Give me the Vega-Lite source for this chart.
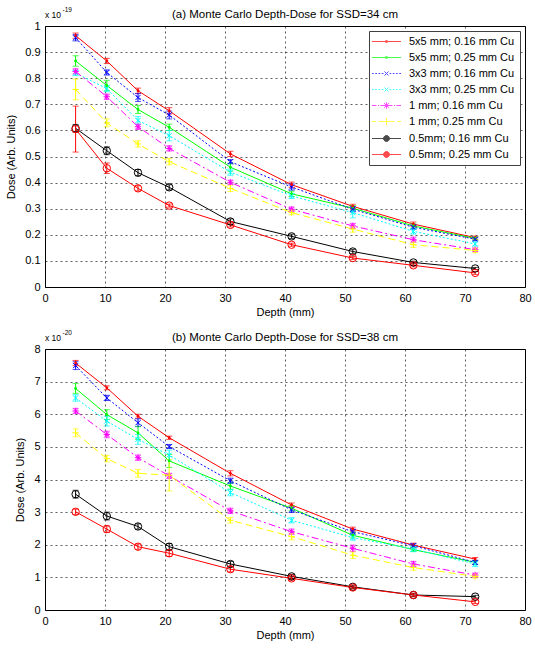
{
  "$schema": "https://vega.github.io/schema/vega-lite/v6.json",
  "padding": {"left": 5, "top": 6, "right": 0, "bottom": 0},
  "background": "white",
  "datasets": {
    "a": [
      {"s": "5x5 mm; 0.16 mm Cu", "d": 5.1, "v": 0.963, "e": 0.01},
      {"s": "5x5 mm; 0.16 mm Cu", "d": 10.3, "v": 0.866, "e": 0.01},
      {"s": "5x5 mm; 0.16 mm Cu", "d": 15.5, "v": 0.752, "e": 0.01},
      {"s": "5x5 mm; 0.16 mm Cu", "d": 20.7, "v": 0.675, "e": 0.012},
      {"s": "5x5 mm; 0.16 mm Cu", "d": 30.9, "v": 0.51, "e": 0.01},
      {"s": "5x5 mm; 0.16 mm Cu", "d": 41.1, "v": 0.392, "e": 0.01},
      {"s": "5x5 mm; 0.16 mm Cu", "d": 51.3, "v": 0.309, "e": 0.008},
      {"s": "5x5 mm; 0.16 mm Cu", "d": 61.4, "v": 0.241, "e": 0.008},
      {"s": "5x5 mm; 0.16 mm Cu", "d": 71.7, "v": 0.189, "e": 0.006},
      {"s": "5x5 mm; 0.25 mm Cu", "d": 5.1, "v": 0.866, "e": 0.02},
      {"s": "5x5 mm; 0.25 mm Cu", "d": 10.3, "v": 0.772, "e": 0.02},
      {"s": "5x5 mm; 0.25 mm Cu", "d": 15.5, "v": 0.68, "e": 0.015},
      {"s": "5x5 mm; 0.25 mm Cu", "d": 20.7, "v": 0.612, "e": 0.012},
      {"s": "5x5 mm; 0.25 mm Cu", "d": 30.9, "v": 0.459, "e": 0.015},
      {"s": "5x5 mm; 0.25 mm Cu", "d": 41.1, "v": 0.357, "e": 0.01},
      {"s": "5x5 mm; 0.25 mm Cu", "d": 51.3, "v": 0.302, "e": 0.01},
      {"s": "5x5 mm; 0.25 mm Cu", "d": 61.4, "v": 0.234, "e": 0.008},
      {"s": "5x5 mm; 0.25 mm Cu", "d": 71.7, "v": 0.186, "e": 0.006},
      {"s": "3x3 mm; 0.16 mm Cu", "d": 5.1, "v": 0.955, "e": 0.012},
      {"s": "3x3 mm; 0.16 mm Cu", "d": 10.3, "v": 0.822, "e": 0.01},
      {"s": "3x3 mm; 0.16 mm Cu", "d": 15.5, "v": 0.726, "e": 0.015},
      {"s": "3x3 mm; 0.16 mm Cu", "d": 20.7, "v": 0.659, "e": 0.015},
      {"s": "3x3 mm; 0.16 mm Cu", "d": 30.9, "v": 0.48, "e": 0.008},
      {"s": "3x3 mm; 0.16 mm Cu", "d": 41.1, "v": 0.383, "e": 0.012},
      {"s": "3x3 mm; 0.16 mm Cu", "d": 51.3, "v": 0.298, "e": 0.01},
      {"s": "3x3 mm; 0.16 mm Cu", "d": 61.4, "v": 0.229, "e": 0.008},
      {"s": "3x3 mm; 0.16 mm Cu", "d": 71.7, "v": 0.183, "e": 0.006},
      {"s": "3x3 mm; 0.25 mm Cu", "d": 5.1, "v": 0.82, "e": 0.01},
      {"s": "3x3 mm; 0.25 mm Cu", "d": 10.3, "v": 0.76, "e": 0.012},
      {"s": "3x3 mm; 0.25 mm Cu", "d": 15.5, "v": 0.638, "e": 0.015},
      {"s": "3x3 mm; 0.25 mm Cu", "d": 20.7, "v": 0.58, "e": 0.02},
      {"s": "3x3 mm; 0.25 mm Cu", "d": 30.9, "v": 0.44, "e": 0.012},
      {"s": "3x3 mm; 0.25 mm Cu", "d": 41.1, "v": 0.349, "e": 0.01},
      {"s": "3x3 mm; 0.25 mm Cu", "d": 51.3, "v": 0.285, "e": 0.02},
      {"s": "3x3 mm; 0.25 mm Cu", "d": 61.4, "v": 0.213, "e": 0.01},
      {"s": "3x3 mm; 0.25 mm Cu", "d": 71.7, "v": 0.165, "e": 0.008},
      {"s": "1 mm; 0.16 mm Cu", "d": 5.1, "v": 0.826, "e": 0.01},
      {"s": "1 mm; 0.16 mm Cu", "d": 10.3, "v": 0.729, "e": 0.01},
      {"s": "1 mm; 0.16 mm Cu", "d": 15.5, "v": 0.614, "e": 0.01},
      {"s": "1 mm; 0.16 mm Cu", "d": 20.7, "v": 0.531, "e": 0.01},
      {"s": "1 mm; 0.16 mm Cu", "d": 30.9, "v": 0.401, "e": 0.008},
      {"s": "1 mm; 0.16 mm Cu", "d": 41.1, "v": 0.298, "e": 0.008},
      {"s": "1 mm; 0.16 mm Cu", "d": 51.3, "v": 0.234, "e": 0.01},
      {"s": "1 mm; 0.16 mm Cu", "d": 61.4, "v": 0.181, "e": 0.01},
      {"s": "1 mm; 0.16 mm Cu", "d": 71.7, "v": 0.143, "e": 0.006},
      {"s": "1 mm; 0.25 mm Cu", "d": 5.1, "v": 0.757, "e": 0.04},
      {"s": "1 mm; 0.25 mm Cu", "d": 10.3, "v": 0.629, "e": 0.015},
      {"s": "1 mm; 0.25 mm Cu", "d": 15.5, "v": 0.548, "e": 0.012},
      {"s": "1 mm; 0.25 mm Cu", "d": 20.7, "v": 0.48, "e": 0.012},
      {"s": "1 mm; 0.25 mm Cu", "d": 30.9, "v": 0.378, "e": 0.012},
      {"s": "1 mm; 0.25 mm Cu", "d": 41.1, "v": 0.285, "e": 0.008},
      {"s": "1 mm; 0.25 mm Cu", "d": 51.3, "v": 0.222, "e": 0.012},
      {"s": "1 mm; 0.25 mm Cu", "d": 61.4, "v": 0.162, "e": 0.01},
      {"s": "1 mm; 0.25 mm Cu", "d": 71.7, "v": 0.14, "e": 0.008},
      {"s": "0.5mm; 0.16 mm Cu", "d": 5.1, "v": 0.608, "e": 0.015},
      {"s": "0.5mm; 0.16 mm Cu", "d": 10.3, "v": 0.522, "e": 0.015},
      {"s": "0.5mm; 0.16 mm Cu", "d": 15.5, "v": 0.438, "e": 0.012},
      {"s": "0.5mm; 0.16 mm Cu", "d": 20.7, "v": 0.382, "e": 0.01},
      {"s": "0.5mm; 0.16 mm Cu", "d": 30.9, "v": 0.251, "e": 0.01},
      {"s": "0.5mm; 0.16 mm Cu", "d": 41.1, "v": 0.194, "e": 0.008},
      {"s": "0.5mm; 0.16 mm Cu", "d": 51.3, "v": 0.136, "e": 0.008},
      {"s": "0.5mm; 0.16 mm Cu", "d": 61.4, "v": 0.094, "e": 0.005},
      {"s": "0.5mm; 0.16 mm Cu", "d": 71.7, "v": 0.071, "e": 0.004},
      {"s": "0.5mm; 0.25 mm Cu", "d": 5.1, "v": 0.605, "e": 0.088},
      {"s": "0.5mm; 0.25 mm Cu", "d": 10.3, "v": 0.455, "e": 0.02},
      {"s": "0.5mm; 0.25 mm Cu", "d": 15.5, "v": 0.378, "e": 0.01},
      {"s": "0.5mm; 0.25 mm Cu", "d": 20.7, "v": 0.312, "e": 0.006},
      {"s": "0.5mm; 0.25 mm Cu", "d": 30.9, "v": 0.238, "e": 0.008},
      {"s": "0.5mm; 0.25 mm Cu", "d": 41.1, "v": 0.162, "e": 0.006},
      {"s": "0.5mm; 0.25 mm Cu", "d": 51.3, "v": 0.111, "e": 0.006},
      {"s": "0.5mm; 0.25 mm Cu", "d": 61.4, "v": 0.083, "e": 0.006},
      {"s": "0.5mm; 0.25 mm Cu", "d": 71.7, "v": 0.054, "e": 0.006}
    ],
    "b": [
      {"s": "5x5 mm; 0.16 mm Cu", "d": 5.1, "v": 7.57, "e": 0.08},
      {"s": "5x5 mm; 0.16 mm Cu", "d": 10.3, "v": 6.81, "e": 0.06},
      {"s": "5x5 mm; 0.16 mm Cu", "d": 15.5, "v": 5.94, "e": 0.06},
      {"s": "5x5 mm; 0.16 mm Cu", "d": 20.7, "v": 5.28, "e": 0.05},
      {"s": "5x5 mm; 0.16 mm Cu", "d": 30.9, "v": 4.19, "e": 0.08},
      {"s": "5x5 mm; 0.16 mm Cu", "d": 41.1, "v": 3.22, "e": 0.06},
      {"s": "5x5 mm; 0.16 mm Cu", "d": 51.3, "v": 2.48, "e": 0.06},
      {"s": "5x5 mm; 0.16 mm Cu", "d": 61.4, "v": 1.99, "e": 0.06},
      {"s": "5x5 mm; 0.16 mm Cu", "d": 71.7, "v": 1.56, "e": 0.05},
      {"s": "5x5 mm; 0.25 mm Cu", "d": 5.1, "v": 6.79, "e": 0.15},
      {"s": "5x5 mm; 0.25 mm Cu", "d": 10.3, "v": 5.99, "e": 0.15},
      {"s": "5x5 mm; 0.25 mm Cu", "d": 15.5, "v": 5.43, "e": 0.2},
      {"s": "5x5 mm; 0.25 mm Cu", "d": 20.7, "v": 4.57, "e": 0.2},
      {"s": "5x5 mm; 0.25 mm Cu", "d": 30.9, "v": 3.8, "e": 0.1},
      {"s": "5x5 mm; 0.25 mm Cu", "d": 41.1, "v": 3.12, "e": 0.08},
      {"s": "5x5 mm; 0.25 mm Cu", "d": 51.3, "v": 2.29, "e": 0.08},
      {"s": "5x5 mm; 0.25 mm Cu", "d": 61.4, "v": 1.85, "e": 0.06},
      {"s": "5x5 mm; 0.25 mm Cu", "d": 71.7, "v": 1.46, "e": 0.06},
      {"s": "3x3 mm; 0.16 mm Cu", "d": 5.1, "v": 7.49, "e": 0.12},
      {"s": "3x3 mm; 0.16 mm Cu", "d": 10.3, "v": 6.5, "e": 0.08},
      {"s": "3x3 mm; 0.16 mm Cu", "d": 15.5, "v": 5.74, "e": 0.12},
      {"s": "3x3 mm; 0.16 mm Cu", "d": 20.7, "v": 5.01, "e": 0.06},
      {"s": "3x3 mm; 0.16 mm Cu", "d": 30.9, "v": 3.96, "e": 0.08},
      {"s": "3x3 mm; 0.16 mm Cu", "d": 41.1, "v": 3.07, "e": 0.08},
      {"s": "3x3 mm; 0.16 mm Cu", "d": 51.3, "v": 2.4, "e": 0.08},
      {"s": "3x3 mm; 0.16 mm Cu", "d": 61.4, "v": 1.97, "e": 0.06},
      {"s": "3x3 mm; 0.16 mm Cu", "d": 71.7, "v": 1.46, "e": 0.06},
      {"s": "3x3 mm; 0.25 mm Cu", "d": 5.1, "v": 6.5, "e": 0.1},
      {"s": "3x3 mm; 0.25 mm Cu", "d": 10.3, "v": 5.79, "e": 0.15},
      {"s": "3x3 mm; 0.25 mm Cu", "d": 15.5, "v": 5.23, "e": 0.15},
      {"s": "3x3 mm; 0.25 mm Cu", "d": 20.7, "v": 4.75, "e": 0.15},
      {"s": "3x3 mm; 0.25 mm Cu", "d": 30.9, "v": 3.6, "e": 0.1},
      {"s": "3x3 mm; 0.25 mm Cu", "d": 41.1, "v": 2.75, "e": 0.08},
      {"s": "3x3 mm; 0.25 mm Cu", "d": 51.3, "v": 2.22, "e": 0.08},
      {"s": "3x3 mm; 0.25 mm Cu", "d": 61.4, "v": 1.87, "e": 0.08},
      {"s": "3x3 mm; 0.25 mm Cu", "d": 71.7, "v": 1.41, "e": 0.08},
      {"s": "1 mm; 0.16 mm Cu", "d": 5.1, "v": 6.1, "e": 0.08},
      {"s": "1 mm; 0.16 mm Cu", "d": 10.3, "v": 5.38, "e": 0.1},
      {"s": "1 mm; 0.16 mm Cu", "d": 15.5, "v": 4.67, "e": 0.08},
      {"s": "1 mm; 0.16 mm Cu", "d": 20.7, "v": 4.11, "e": 0.08},
      {"s": "1 mm; 0.16 mm Cu", "d": 30.9, "v": 3.04, "e": 0.08},
      {"s": "1 mm; 0.16 mm Cu", "d": 41.1, "v": 2.4, "e": 0.08},
      {"s": "1 mm; 0.16 mm Cu", "d": 51.3, "v": 1.89, "e": 0.1},
      {"s": "1 mm; 0.16 mm Cu", "d": 61.4, "v": 1.41, "e": 0.08},
      {"s": "1 mm; 0.16 mm Cu", "d": 71.7, "v": 1.07, "e": 0.06},
      {"s": "1 mm; 0.25 mm Cu", "d": 5.1, "v": 5.43, "e": 0.12},
      {"s": "1 mm; 0.25 mm Cu", "d": 10.3, "v": 4.64, "e": 0.1},
      {"s": "1 mm; 0.25 mm Cu", "d": 15.5, "v": 4.19, "e": 0.12},
      {"s": "1 mm; 0.25 mm Cu", "d": 20.7, "v": 4.13, "e": 0.48},
      {"s": "1 mm; 0.25 mm Cu", "d": 30.9, "v": 2.75, "e": 0.08},
      {"s": "1 mm; 0.25 mm Cu", "d": 41.1, "v": 2.25, "e": 0.1},
      {"s": "1 mm; 0.25 mm Cu", "d": 51.3, "v": 1.68, "e": 0.1},
      {"s": "1 mm; 0.25 mm Cu", "d": 61.4, "v": 1.3, "e": 0.08},
      {"s": "1 mm; 0.25 mm Cu", "d": 71.7, "v": 1.03, "e": 0.05},
      {"s": "0.5mm; 0.16 mm Cu", "d": 5.1, "v": 3.55, "e": 0.12},
      {"s": "0.5mm; 0.16 mm Cu", "d": 10.3, "v": 2.88, "e": 0.12},
      {"s": "0.5mm; 0.16 mm Cu", "d": 15.5, "v": 2.56, "e": 0.08},
      {"s": "0.5mm; 0.16 mm Cu", "d": 20.7, "v": 1.94, "e": 0.1},
      {"s": "0.5mm; 0.16 mm Cu", "d": 30.9, "v": 1.41, "e": 0.08},
      {"s": "0.5mm; 0.16 mm Cu", "d": 41.1, "v": 1.03, "e": 0.06},
      {"s": "0.5mm; 0.16 mm Cu", "d": 51.3, "v": 0.71, "e": 0.05},
      {"s": "0.5mm; 0.16 mm Cu", "d": 61.4, "v": 0.46, "e": 0.05},
      {"s": "0.5mm; 0.16 mm Cu", "d": 71.7, "v": 0.41, "e": 0.04},
      {"s": "0.5mm; 0.25 mm Cu", "d": 5.1, "v": 3.01, "e": 0.08},
      {"s": "0.5mm; 0.25 mm Cu", "d": 10.3, "v": 2.48, "e": 0.1},
      {"s": "0.5mm; 0.25 mm Cu", "d": 15.5, "v": 1.94, "e": 0.08},
      {"s": "0.5mm; 0.25 mm Cu", "d": 20.7, "v": 1.74, "e": 0.1},
      {"s": "0.5mm; 0.25 mm Cu", "d": 30.9, "v": 1.25, "e": 0.08},
      {"s": "0.5mm; 0.25 mm Cu", "d": 41.1, "v": 0.97, "e": 0.06},
      {"s": "0.5mm; 0.25 mm Cu", "d": 51.3, "v": 0.69, "e": 0.05},
      {"s": "0.5mm; 0.25 mm Cu", "d": 61.4, "v": 0.46, "e": 0.05},
      {"s": "0.5mm; 0.25 mm Cu", "d": 71.7, "v": 0.25, "e": 0.05}
    ]
  },
  "spacing": 62,
  "bounds": "flush",
  "vconcat": [
    {
      "width": 480,
      "height": 261,
      "data": {"name": "a"},
      "title": {"text": "(a) Monte Carlo Depth-Dose for SSD=34 cm"},
      "encoding": {
        "x": {"field": "d", "type": "quantitative", "scale": {"domain": [0, 80], "nice": false}, "axis": {"values": [0, 10, 20, 30, 40, 50, 60, 70, 80], "title": "Depth (mm)"}},
        "y": {"field": "v", "type": "quantitative", "scale": {"domain": [0, 1], "nice": false}, "axis": {"values": [0, 0.1, 0.2, 0.3, 0.4, 0.5, 0.6, 0.7, 0.8, 0.9, 1], "format": "~g", "title": "Dose (Arb. Units)"}},
        "color": {"field": "s", "type": "nominal", "scale": {"domain": ["5x5 mm; 0.16 mm Cu", "5x5 mm; 0.25 mm Cu", "3x3 mm; 0.16 mm Cu", "3x3 mm; 0.25 mm Cu", "1 mm; 0.16 mm Cu", "1 mm; 0.25 mm Cu", "0.5mm; 0.16 mm Cu", "0.5mm; 0.25 mm Cu"], "range": ["#ff0000", "#00ff00", "#0000ff", "#00ffff", "#ff00ff", "#ffff00", "#000000", "#ff0000"]}, "legend": {"title": null}}
      },
      "layer": [
        {
          "transform": [{"filter": {"and": [{"field": "s", "equal": "5x5 mm; 0.16 mm Cu"}, {"field": "d", "equal": 5.1}]}}],
          "mark": {"type": "text", "text": "x 10", "align": "left", "baseline": "bottom", "dy": -6, "fontSize": 8.5},
          "encoding": {"x": {"datum": 0}, "y": {"datum": 1}, "color": {"value": "#000000"}}
        },
        {
          "transform": [{"filter": {"and": [{"field": "s", "equal": "5x5 mm; 0.16 mm Cu"}, {"field": "d", "equal": 5.1}]}}],
          "mark": {"type": "text", "text": "-19", "align": "left", "baseline": "bottom", "dx": 17.5, "dy": -13, "fontSize": 6.5},
          "encoding": {"x": {"datum": 0}, "y": {"datum": 1}, "color": {"value": "#000000"}}
        },
        {
          "transform": [{"filter": {"field": "s", "oneOf": ["5x5 mm; 0.16 mm Cu", "5x5 mm; 0.25 mm Cu", "0.5mm; 0.16 mm Cu", "0.5mm; 0.25 mm Cu"]}}],
          "mark": {"type": "line", "strokeWidth": 1}
        },
        {
          "transform": [{"filter": {"field": "s", "oneOf": ["3x3 mm; 0.16 mm Cu", "3x3 mm; 0.25 mm Cu"]}}],
          "mark": {"type": "line", "strokeWidth": 1, "strokeDash": [2, 2]}
        },
        {
          "transform": [{"filter": {"field": "s", "equal": "1 mm; 0.16 mm Cu"}}],
          "mark": {"type": "line", "strokeWidth": 1, "strokeDash": [7, 3, 2, 3]}
        },
        {
          "transform": [{"filter": {"field": "s", "equal": "1 mm; 0.25 mm Cu"}}],
          "mark": {"type": "line", "strokeWidth": 1, "strokeDash": [7, 4]}
        },
        {
          "mark": {"type": "errorbar", "ticks": {"size": 6}, "rule": {"strokeWidth": 1}},
          "encoding": {"yError": {"field": "e"}}
        },
        {
          "transform": [{"filter": {"field": "s", "oneOf": ["5x5 mm; 0.16 mm Cu", "5x5 mm; 0.25 mm Cu"]}}],
          "mark": {"type": "point", "shape": "circle", "filled": true, "size": 8, "opacity": 1}
        },
        {
          "transform": [{"filter": {"field": "s", "oneOf": ["3x3 mm; 0.16 mm Cu", "3x3 mm; 0.25 mm Cu"]}}],
          "mark": {"type": "point", "shape": "M-1,-1L1,1M-1,1L1,-1", "filled": false, "size": 25, "opacity": 1, "strokeWidth": 1}
        },
        {
          "transform": [{"filter": {"field": "s", "equal": "1 mm; 0.16 mm Cu"}}],
          "mark": {"type": "point", "shape": "M-1,0H1M0,-1V1M-0.7,-0.7L0.7,0.7M-0.7,0.7L0.7,-0.7", "filled": false, "size": 40, "opacity": 1, "strokeWidth": 1}
        },
        {
          "transform": [{"filter": {"field": "s", "equal": "1 mm; 0.25 mm Cu"}}],
          "mark": {"type": "point", "shape": "M-1,0H1M0,-1V1", "filled": false, "size": 40, "opacity": 1, "strokeWidth": 1}
        },
        {
          "transform": [{"filter": {"field": "s", "oneOf": ["0.5mm; 0.16 mm Cu", "0.5mm; 0.25 mm Cu"]}}],
          "mark": {"type": "point", "shape": "circle", "filled": false, "size": 55, "opacity": 1, "strokeWidth": 1}
        },
        {
          "transform": [{"filter": "datum.d < 0"}],
          "mark": {"type": "point", "filled": false, "opacity": 1, "strokeWidth": 1},
          "encoding": {
            "shape": {"field": "s", "type": "nominal", "scale": {"domain": ["5x5 mm; 0.16 mm Cu", "5x5 mm; 0.25 mm Cu", "3x3 mm; 0.16 mm Cu", "3x3 mm; 0.25 mm Cu", "1 mm; 0.16 mm Cu", "1 mm; 0.25 mm Cu", "0.5mm; 0.16 mm Cu", "0.5mm; 0.25 mm Cu"], "range": [
              "M-2.9,0H2.9M-0.16,-0.16H0.16V0.16H-0.16Z",
              "M-2.9,0H2.9M-0.16,-0.16H0.16V0.16H-0.16Z",
              "M-2.9,0H-2.55M-2.25,0H-1.9M-1.6,0H-1.25M-0.95,0H-0.6M0.6,0H0.95M1.25,0H1.6M1.9,0H2.25M2.55,0H2.9M-0.4,-0.4L0.4,0.4M-0.4,0.4L0.4,-0.4",
              "M-2.9,0H-2.55M-2.25,0H-1.9M-1.6,0H-1.25M-0.95,0H-0.6M0.6,0H0.95M1.25,0H1.6M1.9,0H2.25M2.55,0H2.9M-0.4,-0.4L0.4,0.4M-0.4,0.4L0.4,-0.4",
              "M-2.9,0H-2M-1.7,0H-1.5M-1.2,0H1.2M1.5,0H1.7M2,0H2.9M0,-0.65V0.65M-0.48,-0.48L0.48,0.48M-0.48,0.48L0.48,-0.48",
              "M-2.9,0H-2.1M-1.6,0H-0.4M0.4,0H1.6M2.1,0H2.9M-0.75,0H0.75M0,-0.75V0.75",
              "M-2.9,0H2.9M0.6,0L0.52,0.3L0.3,0.52L0,0.6L-0.3,0.52L-0.52,0.3L-0.6,0L-0.52,-0.3L-0.3,-0.52L0,-0.6L0.3,-0.52L0.52,-0.3Z",
              "M-2.9,0H2.9M0.6,0L0.52,0.3L0.3,0.52L0,0.6L-0.3,0.52L-0.52,0.3L-0.6,0L-0.52,-0.3L-0.3,-0.52L0,-0.6L0.3,-0.52L0.52,-0.3Z"
            ]}, "legend": {"title": null}}
          }
        }
      ]
    },
    {
      "width": 480,
      "height": 261,
      "data": {"name": "b"},
      "title": {"text": "(b) Monte Carlo Depth-Dose for SSD=38 cm"},
      "encoding": {
        "x": {"field": "d", "type": "quantitative", "scale": {"domain": [0, 80], "nice": false}, "axis": {"values": [0, 10, 20, 30, 40, 50, 60, 70, 80], "title": "Depth (mm)"}},
        "y": {"field": "v", "type": "quantitative", "scale": {"domain": [0, 8], "nice": false}, "axis": {"values": [0, 1, 2, 3, 4, 5, 6, 7, 8], "format": "~g", "title": "Dose (Arb. Units)"}},
        "color": {"field": "s", "type": "nominal", "scale": {"domain": ["5x5 mm; 0.16 mm Cu", "5x5 mm; 0.25 mm Cu", "3x3 mm; 0.16 mm Cu", "3x3 mm; 0.25 mm Cu", "1 mm; 0.16 mm Cu", "1 mm; 0.25 mm Cu", "0.5mm; 0.16 mm Cu", "0.5mm; 0.25 mm Cu"], "range": ["#ff0000", "#00ff00", "#0000ff", "#00ffff", "#ff00ff", "#ffff00", "#000000", "#ff0000"]}, "legend": {"title": null}}
      },
      "layer": [
        {
          "transform": [{"filter": {"and": [{"field": "s", "equal": "5x5 mm; 0.16 mm Cu"}, {"field": "d", "equal": 5.1}]}}],
          "mark": {"type": "text", "text": "x 10", "align": "left", "baseline": "bottom", "dy": -6, "fontSize": 8.5},
          "encoding": {"x": {"datum": 0}, "y": {"datum": 8}, "color": {"value": "#000000"}}
        },
        {
          "transform": [{"filter": {"and": [{"field": "s", "equal": "5x5 mm; 0.16 mm Cu"}, {"field": "d", "equal": 5.1}]}}],
          "mark": {"type": "text", "text": "-20", "align": "left", "baseline": "bottom", "dx": 17.5, "dy": -13, "fontSize": 6.5},
          "encoding": {"x": {"datum": 0}, "y": {"datum": 8}, "color": {"value": "#000000"}}
        },
        {
          "transform": [{"filter": {"field": "s", "oneOf": ["5x5 mm; 0.16 mm Cu", "5x5 mm; 0.25 mm Cu", "0.5mm; 0.16 mm Cu", "0.5mm; 0.25 mm Cu"]}}],
          "mark": {"type": "line", "strokeWidth": 1}
        },
        {
          "transform": [{"filter": {"field": "s", "oneOf": ["3x3 mm; 0.16 mm Cu", "3x3 mm; 0.25 mm Cu"]}}],
          "mark": {"type": "line", "strokeWidth": 1, "strokeDash": [2, 2]}
        },
        {
          "transform": [{"filter": {"field": "s", "equal": "1 mm; 0.16 mm Cu"}}],
          "mark": {"type": "line", "strokeWidth": 1, "strokeDash": [7, 3, 2, 3]}
        },
        {
          "transform": [{"filter": {"field": "s", "equal": "1 mm; 0.25 mm Cu"}}],
          "mark": {"type": "line", "strokeWidth": 1, "strokeDash": [7, 4]}
        },
        {
          "mark": {"type": "errorbar", "ticks": {"size": 6}, "rule": {"strokeWidth": 1}},
          "encoding": {"yError": {"field": "e"}}
        },
        {
          "transform": [{"filter": {"field": "s", "oneOf": ["5x5 mm; 0.16 mm Cu", "5x5 mm; 0.25 mm Cu"]}}],
          "mark": {"type": "point", "shape": "circle", "filled": true, "size": 8, "opacity": 1}
        },
        {
          "transform": [{"filter": {"field": "s", "oneOf": ["3x3 mm; 0.16 mm Cu", "3x3 mm; 0.25 mm Cu"]}}],
          "mark": {"type": "point", "shape": "M-1,-1L1,1M-1,1L1,-1", "filled": false, "size": 25, "opacity": 1, "strokeWidth": 1}
        },
        {
          "transform": [{"filter": {"field": "s", "equal": "1 mm; 0.16 mm Cu"}}],
          "mark": {"type": "point", "shape": "M-1,0H1M0,-1V1M-0.7,-0.7L0.7,0.7M-0.7,0.7L0.7,-0.7", "filled": false, "size": 40, "opacity": 1, "strokeWidth": 1}
        },
        {
          "transform": [{"filter": {"field": "s", "equal": "1 mm; 0.25 mm Cu"}}],
          "mark": {"type": "point", "shape": "M-1,0H1M0,-1V1", "filled": false, "size": 40, "opacity": 1, "strokeWidth": 1}
        },
        {
          "transform": [{"filter": {"field": "s", "oneOf": ["0.5mm; 0.16 mm Cu", "0.5mm; 0.25 mm Cu"]}}],
          "mark": {"type": "point", "shape": "circle", "filled": false, "size": 55, "opacity": 1, "strokeWidth": 1}
        },
        {
          "transform": [{"filter": "datum.d < 0"}],
          "mark": {"type": "point", "filled": false, "opacity": 1, "strokeWidth": 1},
          "encoding": {
            "shape": {"field": "s", "type": "nominal", "scale": {"domain": ["5x5 mm; 0.16 mm Cu", "5x5 mm; 0.25 mm Cu", "3x3 mm; 0.16 mm Cu", "3x3 mm; 0.25 mm Cu", "1 mm; 0.16 mm Cu", "1 mm; 0.25 mm Cu", "0.5mm; 0.16 mm Cu", "0.5mm; 0.25 mm Cu"], "range": [
              "M-2.9,0H2.9M-0.16,-0.16H0.16V0.16H-0.16Z",
              "M-2.9,0H2.9M-0.16,-0.16H0.16V0.16H-0.16Z",
              "M-2.9,0H-2.55M-2.25,0H-1.9M-1.6,0H-1.25M-0.95,0H-0.6M0.6,0H0.95M1.25,0H1.6M1.9,0H2.25M2.55,0H2.9M-0.4,-0.4L0.4,0.4M-0.4,0.4L0.4,-0.4",
              "M-2.9,0H-2.55M-2.25,0H-1.9M-1.6,0H-1.25M-0.95,0H-0.6M0.6,0H0.95M1.25,0H1.6M1.9,0H2.25M2.55,0H2.9M-0.4,-0.4L0.4,0.4M-0.4,0.4L0.4,-0.4",
              "M-2.9,0H-2M-1.7,0H-1.5M-1.2,0H1.2M1.5,0H1.7M2,0H2.9M0,-0.65V0.65M-0.48,-0.48L0.48,0.48M-0.48,0.48L0.48,-0.48",
              "M-2.9,0H-2.1M-1.6,0H-0.4M0.4,0H1.6M2.1,0H2.9M-0.75,0H0.75M0,-0.75V0.75",
              "M-2.9,0H2.9M0.6,0L0.52,0.3L0.3,0.52L0,0.6L-0.3,0.52L-0.52,0.3L-0.6,0L-0.52,-0.3L-0.3,-0.52L0,-0.6L0.3,-0.52L0.52,-0.3Z",
              "M-2.9,0H2.9M0.6,0L0.52,0.3L0.3,0.52L0,0.6L-0.3,0.52L-0.52,0.3L-0.6,0L-0.52,-0.3L-0.3,-0.52L0,-0.6L0.3,-0.52L0.52,-0.3Z"
            ]}, "legend": {"title": null}}
          }
        }
      ]
    }
  ],
  "config": {
    "font": "Liberation Sans",
    "view": {"stroke": "#000000", "strokeWidth": 1},
    "axis": {
      "domain": false,
      "ticks": false,
      "grid": true,
      "gridColor": "#000000",
      "gridDash": [2, 3],
      "gridWidth": 0.7,
      "gridOpacity": 0.9,
      "labelFont": "Liberation Sans",
      "labelFontSize": 11,
      "labelColor": "#000000",
      "labelPadding": 5,
      "labelFlush": false,
      "labelOverlap": false,
      "titleFont": "Liberation Sans",
      "titleFontSize": 11,
      "titleFontWeight": "normal",
      "titleColor": "#000000"
    },
    "axisX": {"titlePadding": 3},
    "axisY": {"titlePadding": 8},
    "title": {"font": "Liberation Sans", "fontSize": 11.5, "fontWeight": "normal", "color": "#000000", "offset": -13},
    "text": {"font": "Liberation Sans"},
    "legend": {
      "orient": "top-right",
      "offset": 5,
      "padding": 5,
      "strokeColor": "#404040",
      "fillColor": "#ffffff",
      "symbolSize": 100,
      "symbolStrokeWidth": 1,
      "symbolOffset": 7,
      "labelOffset": 17,
      "labelFont": "Liberation Sans",
      "labelFontSize": 11,
      "labelColor": "#000000",
      "labelLimit": 0,
      "rowPadding": 4,
      "titlePadding": 0
    }
  }
}
